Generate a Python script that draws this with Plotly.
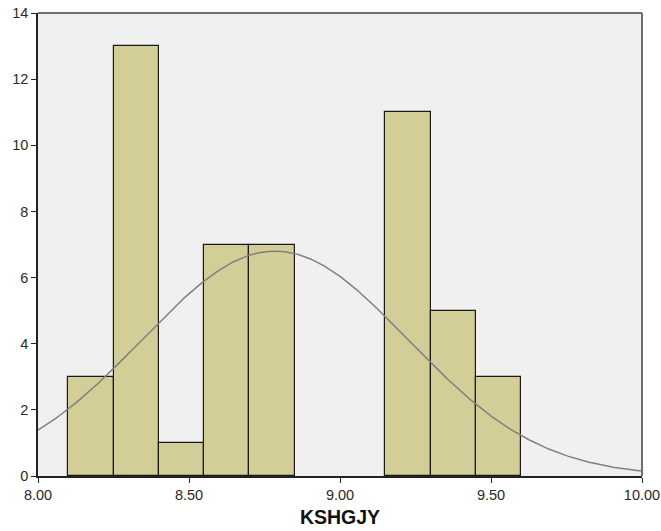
import numpy as np
import plotly.graph_objects as go

bin_edges_left = [8.10, 8.25, 8.40, 8.55, 8.70, 8.85, 9.00, 9.15, 9.30, 9.45]
counts = [3, 13, 1, 7, 7, 0, 0, 11, 5, 3]
bin_width = 0.15
fit_mean = 8.785
fit_sd = 0.44
n_total = sum(counts)

x_ticks = [8.0, 8.5, 9.0, 9.5, 10.0]
x_tick_labels = ["8.00", "8.50", "9.00", "9.50", "10.00"]
y_ticks = [0, 2, 4, 6, 8, 10, 12, 14]

bar_x = [e + bin_width / 2 for e, c in zip(bin_edges_left, counts) if c > 0]
bar_y = [c for c in counts if c > 0]

xs = np.linspace(8.0, 10.0, 400)
ys = n_total * bin_width / (fit_sd * np.sqrt(2 * np.pi)) * np.exp(-0.5 * ((xs - fit_mean) / fit_sd) ** 2)

fig = go.Figure()
fig.add_trace(go.Bar(
    x=bar_x, y=bar_y, width=[bin_width] * len(bar_x),
    marker=dict(color="#D3CE97", line=dict(color="#1a1a1a", width=1.2)),
    hoverinfo="skip",
))
fig.add_trace(go.Scatter(
    x=xs, y=ys, mode="lines",
    line=dict(color="#808080", width=1.5),
    hoverinfo="skip",
))

fig.update_layout(
    width=661, height=531,
    margin=dict(l=38, r=19, t=13, b=55),
    paper_bgcolor="white",
    plot_bgcolor="#F0F0F0",
    showlegend=False,
    bargap=0,
    font=dict(family="Liberation Sans, Arial, sans-serif", color="#2a2a2a", size=14.5),
    xaxis=dict(
        range=[8.0, 10.0], tickvals=x_ticks, ticktext=x_tick_labels,
        showgrid=False, zeroline=False, automargin=False,
        showline=True, linecolor="#222222", linewidth=1.5,
        ticks="outside", ticklen=5, tickcolor="#222222",
        title=dict(text="<b>KSHGJY</b>", font=dict(size=19.5, color="#111111"), standoff=8),
    ),
    yaxis=dict(
        range=[0, 14], tickvals=y_ticks,
        showgrid=False, zeroline=False, automargin=False,
        showline=True, linecolor="#222222", linewidth=1.5,
        ticks="outside", ticklen=5, tickcolor="#222222",
    ),
    shapes=[
        dict(type="line", xref="paper", yref="paper", x0=0, x1=1, y0=1, y1=1,
             line=dict(color="#6e6e6e", width=2)),
        dict(type="line", xref="paper", yref="paper", x0=1, x1=1, y0=0, y1=1,
             line=dict(color="#6e6e6e", width=2)),
    ],
)

fig.write_html("out.html")
